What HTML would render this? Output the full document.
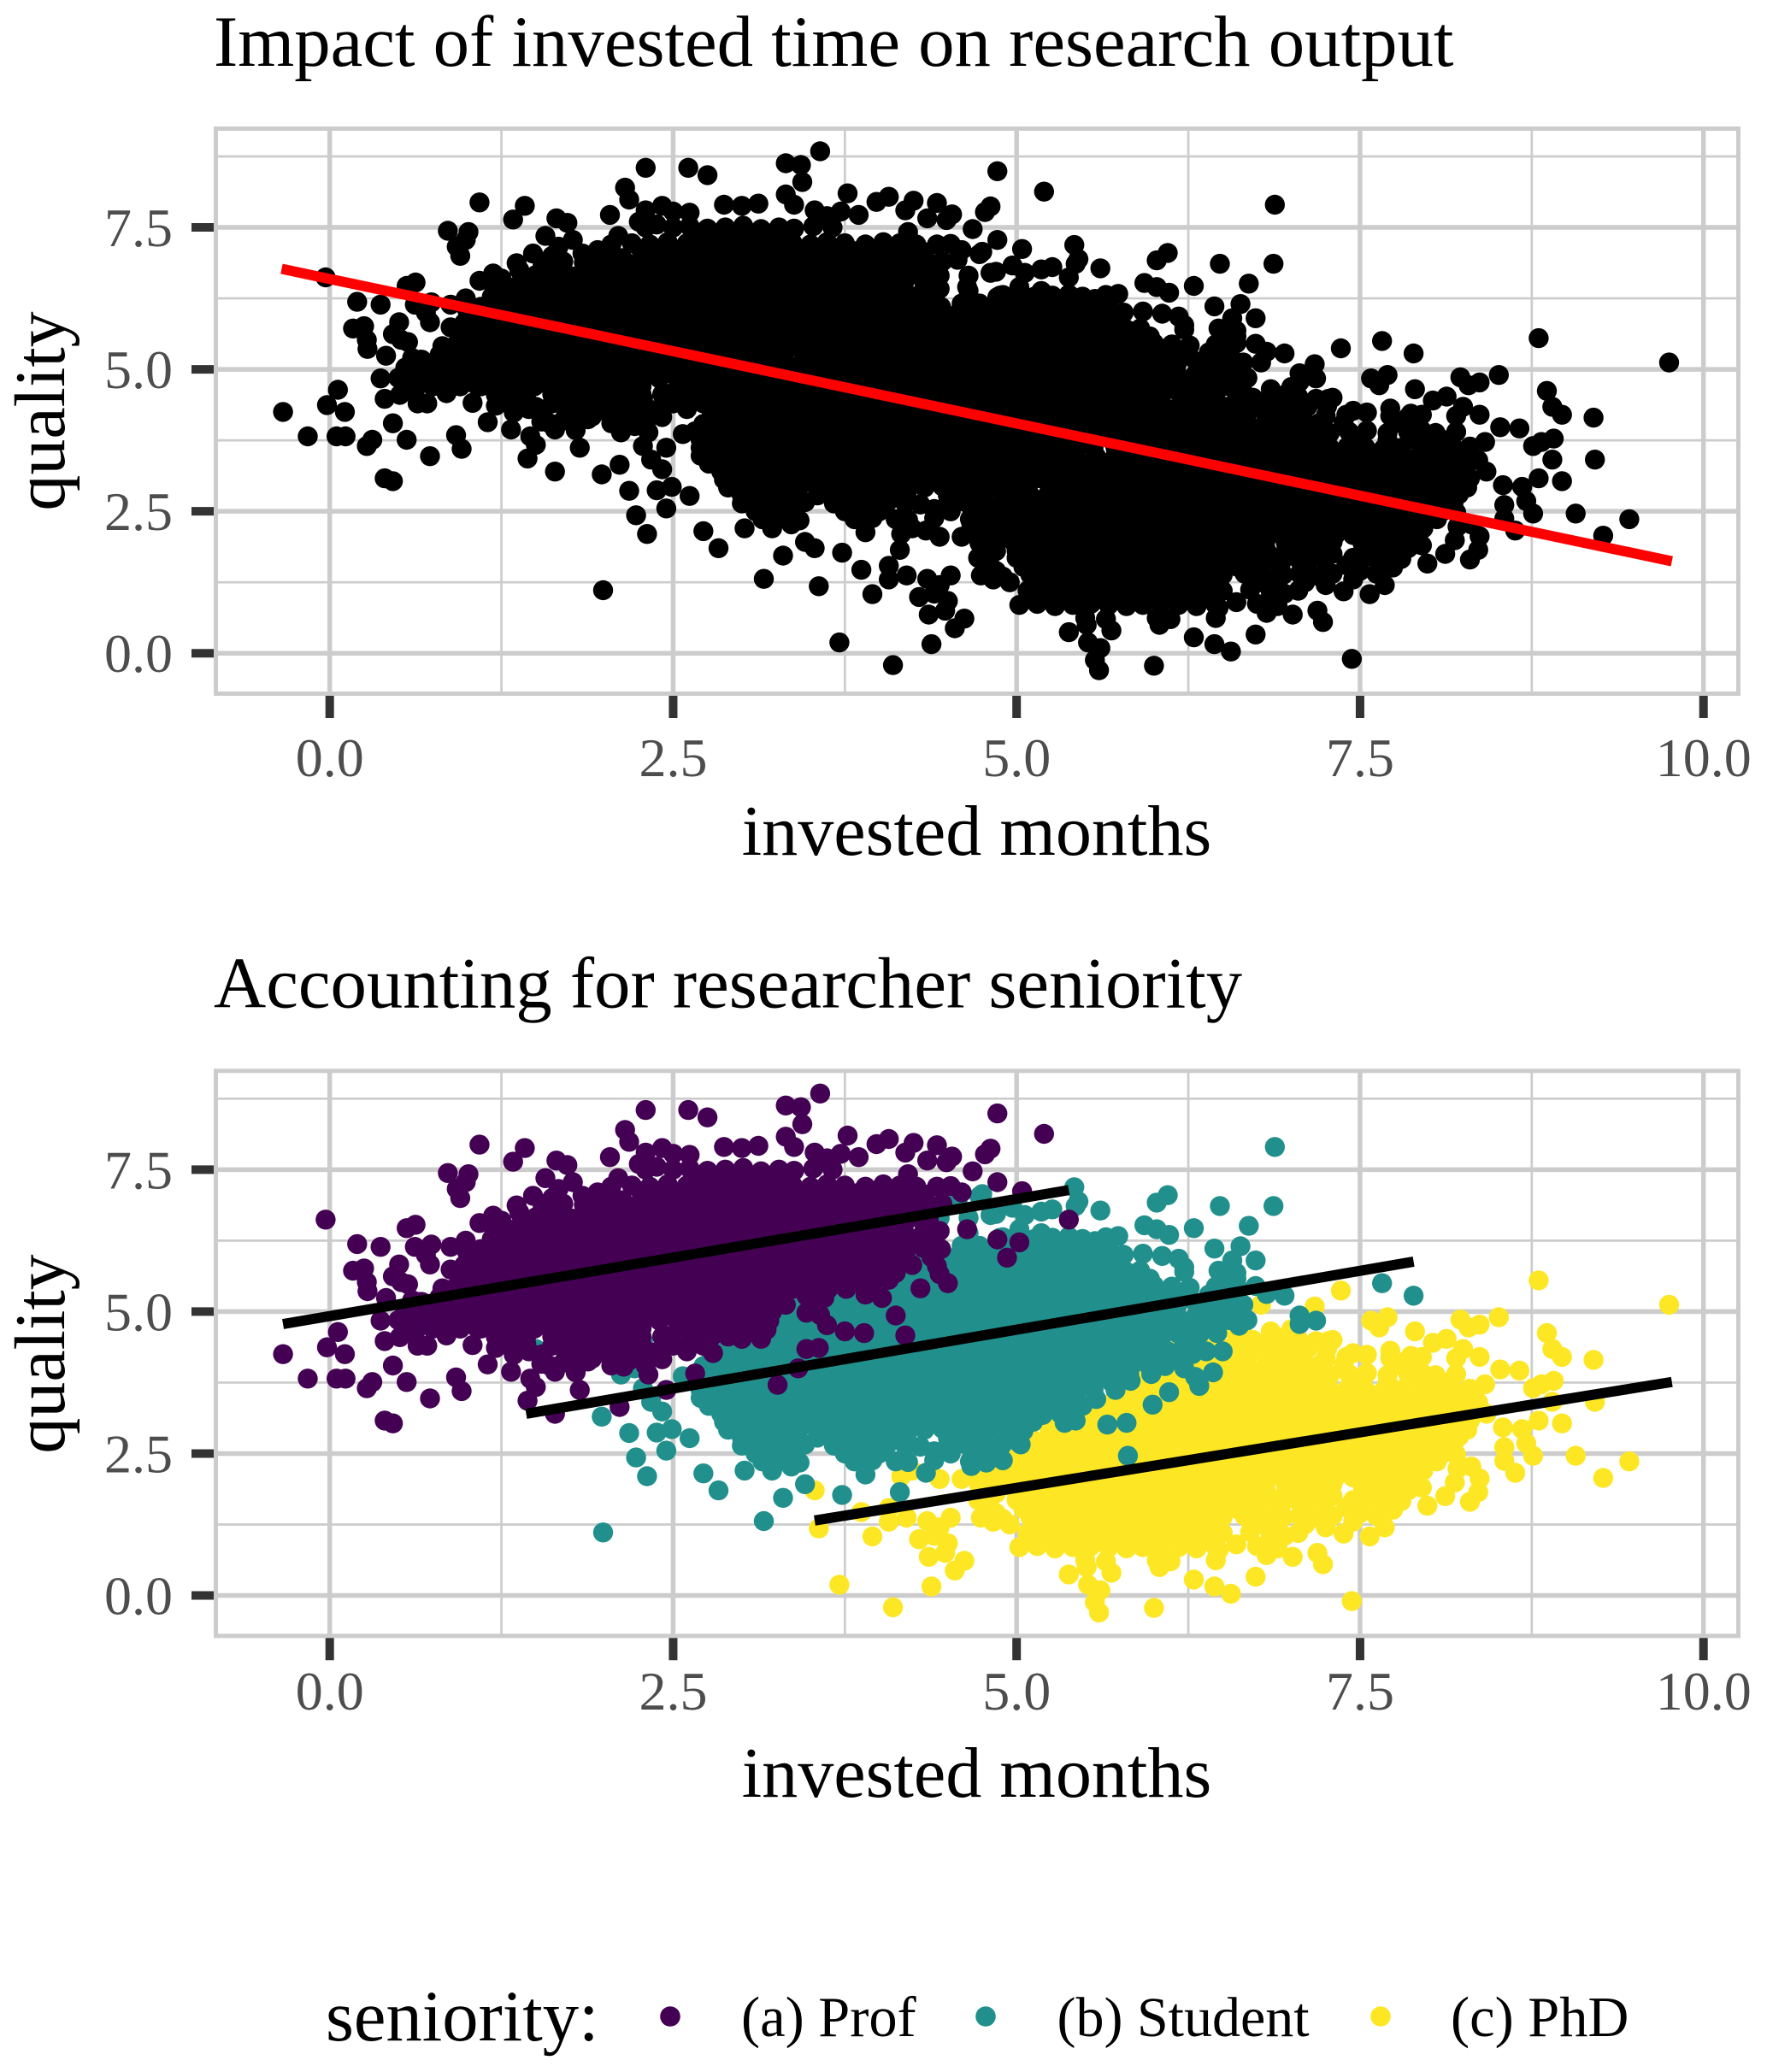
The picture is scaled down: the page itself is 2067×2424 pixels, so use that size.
<!DOCTYPE html>
<html lang="en">
<head>
<meta charset="utf-8">
<title>Impact of invested time on research output</title>
<style>
html,body{margin:0;padding:0;background:#fff;}
svg{display:block;}
text{font-family:"Liberation Serif",serif;}
</style>
</head>
<body>
<svg id="chart" xmlns="http://www.w3.org/2000/svg" width="2067" height="2424" viewBox="0 0 2067 2424">
<rect x="0" y="0" width="2067" height="2424" fill="#fff"/>
<text x="250" y="77" font-size="84.8" fill="#000">Impact of invested time on research output</text>
<text x="250" y="1178.5" font-size="84.8" fill="#000">Accounting for researcher seniority</text>
<g id="top-panel"></g>
<g id="bottom-panel"></g>
<text x="1142.5" y="1000" font-size="84.2" text-anchor="middle" fill="#000">invested months</text>
<text x="1142.5" y="2102" font-size="84.2" text-anchor="middle" fill="#000">invested months</text>
<text transform="translate(75,481) rotate(-90)" font-size="84" text-anchor="middle" fill="#000">quality</text>
<text transform="translate(75,1584) rotate(-90)" font-size="84" text-anchor="middle" fill="#000">quality</text>
<g>
<text x="381" y="2387" font-size="84.6" fill="#000">seniority:</text>
<circle cx="784" cy="2359" r="11.8" fill="#440154"/>
<text x="867" y="2382" font-size="66.4" fill="#000">(a) Prof</text>
<circle cx="1153" cy="2359" r="11.8" fill="#21908c"/>
<text x="1236.5" y="2382" font-size="66" fill="#000">(b) Student</text>
<circle cx="1615" cy="2359" r="11.8" fill="#fde725"/>
<text x="1697" y="2382" font-size="66.4" fill="#000">(c) PhD</text>
</g>
</svg>
<script>
const xTicks=[0,2.5,5,7.5,10];
const xTickLabels=["0.0","2.5","5.0","7.5","10.0"];
const xMinorTicks=[1.25,3.75,6.25,8.75];
const yTicks=[0,2.5,5,7.5];
const yTickLabels=["0.0","2.5","5.0","7.5"];
const yMinorTicks=[1.25,3.75,6.25,8.75];
const overallLineX=[-0.35,9.77];
const overallLineY=[6.77,1.62];
const profLineX=[-0.34,5.38];
const profLineY=[4.78,7.14];
const studentLineX=[1.43,7.89];
const studentLineY=[3.2,5.88];
const phdLineX=[3.53,9.77];
const phdLineY=[1.32,3.76];
const profPoints=[
[-.34,4.25],[-.16,3.82],[-.02,4.37],[.06,4.64],[.11,4.25],[.05,3.82],[.115,3.82],[-.03,6.62],[.2,6.19],[.37,6.14],[.17,5.72],[.25,5.76],[.27,5.52],[.275,5.36],[.41,5.24],[.46,5.62],[.505,5.83],[.56,6.47],[.625,6.53],[.57,5.48],[.52,5.52],[.37,4.84],[.4,4.48],[.51,4.55],[.55,5.03],[.67,5.17],[.64,4.4],[.71,4.4],[.85,4.58],[.46,4.05],[.56,3.76],[.27,3.65],[.31,3.76],[.73,3.47],[.92,3.84],[.96,3.6],[.4,3.08],[.46,3.03],
[.86,7.44],[1.01,7.42],[.925,7.16],[.95,7],[.99,7.28],[1.09,7.94],[1.42,7.88],[1.335,7.64],[1.65,7.66],[1.73,7.58],[1.57,7.35],[1.77,7.28],[1.665,7.16],[1.84,7.04],[2.04,7.72],[1.48,7.04],[1.36,6.87],[1.19,6.69],[1.09,6.56],
[2.3,8.55],[2.61,8.55],[2.75,8.42],[2.15,8.2],[2.18,7.99],[3.32,8.63],[3.43,8.6],[3.44,8.3],[3.57,8.84],[3.32,8.08],[3.38,7.9],[3.77,8.1],[3.53,7.8],[2.3,7.8],[2.42,7.88],[2.5,7.78],[2.62,7.76],[2.87,7.9],[3,7.88],[3.12,7.92],[3.62,7.7],[3.72,7.78],[3.85,7.72],[3.98,7.95],
[4.86,8.49],[5.2,8.13],[4.81,7.87],[4.77,7.77],[4.07,8.04],[4.25,7.97],[4.19,7.8],[4.42,7.93],[4.53,7.73],[4.35,7.66],[4.49,7.63],[4.68,7.47],[4.21,7.42],[4.86,7.28],[5.04,7.12],[4.52,7.21],[4.32,7.07],[4.64,6.45],[5.38,6.62],[4.86,6.27],[5.02,6.22],[4.93,5.95],[4.3,5.41],[4.5,5.5],[4.44,5.66],[4.12,4.93],[4.19,4.58],[4.6,7.1],[4.42,7.2],
[.62,6.14],[.74,6.18],[.7,6],[.73,5.83],[.88,6.14],[.99,6.25],[1.18,6.28],[1.25,5.95],[.88,5.74],[.97,5.76],[.82,5.41],[1.09,5.48],[.66,5.17],[.76,4.93],[.88,4.93],[1.01,4.9],[1.07,4.72],[1.04,4.41],[1.21,4.55],[1.21,4.36],[1.34,4.24],[1.15,4.07],[1.32,3.94],[1.46,3.82],[1.44,3.43],[1.5,3.67],[1.54,4.08],[1.64,3.2],[1.64,3.94],[1.79,3.93],[1.82,3.62],[2.11,3.32],[2.45,3.62],[2.66,3.91],[2.32,3.89],[2.14,4.03],[1.91,4.17],[2.4,4.27],[2.49,4.58],[2.79,4.27],[3.26,3.71],[3.41,4],[3.47,4.34],[3.56,4.36],[3.75,4.65],[3.89,4.62],[3.14,4.52],[3,4.52],[3.62,4.76],
[1.25,6.6],[1.4,6.65],[1.3,6.45],[1.2,6.4],[1.1,6.1],[1,6.05],[1.12,5.95],[1.38,6.75],[1.55,6.85],[1.7,6.9],[1.62,7],[1.85,6.88],[1.95,7.1],[2.05,7.2],[2.1,7.35],[2.25,7.6],[2.38,7.55],[2.5,7.5],[.6,4.75],[.7,4.85],[.62,4.62],[.75,4.7],[.85,4.75],[.95,4.7],[.8,5.1],[.7,5],[.6,5.2],[.5,4.85],[1.45,4.3],[1.55,4.25],[1.6,4.05],[1.7,4.1],[1.8,4.15],[2.05,4.05],[2.25,4.25],[2.3,4.05],[2.5,4.4],[2.6,4.3],
[2.3,7.5],[2.62,7.52],[2.75,7.48],[2.88,7.5],[3.01,7.53],[3.14,7.47],[3.27,7.5],[3.38,7.48],[3.52,7.52],[3.66,7.5],
[2.2,7.22],[2.33,7.2],[2.46,7.24],[2.6,7.22],[2.72,7.2],[2.86,7.24],[2.98,7.22],[3.11,7.2],[3.24,7.23],[3.37,7.22],[3.5,7.2],[3.62,7.24],[3.75,7.22],[3.9,7.2],[4.03,7.24],[4.15,7.22],[4.27,7.2],
[2,6.94],[2.13,6.96],[2.26,6.92],[2.39,6.94],[2.52,6.96],[2.65,6.94],[2.78,6.92],[2.91,6.94],[3.04,6.96],[3.17,6.94],[3.3,6.92],[3.43,6.95],[3.56,6.94],[3.69,6.92],[3.82,6.96],[3.95,6.94],[4.08,6.92],[4.21,6.95],[4.34,6.94],[4.46,6.9],
[1.5,6.66],[1.63,6.68],[1.76,6.64],[1.89,6.66],[2.02,6.68],[2.15,6.66],[2.28,6.64],[2.41,6.66],[2.54,6.68],[2.67,6.66],[2.8,6.64],[2.93,6.66],[3.06,6.68],[3.19,6.66],[3.32,6.64],[3.45,6.66],[3.58,6.68],[3.71,6.66],[3.84,6.64],[3.97,6.66],[4.1,6.68],[4.23,6.66],[4.36,6.64],
[1.33,6.38],[1.46,6.4],[1.59,6.36],[1.72,6.38],[1.85,6.4],[1.98,6.38],[2.11,6.36],[2.24,6.38],[2.37,6.4],[2.5,6.38],[2.63,6.36],[2.76,6.38],[2.89,6.4],[3.02,6.38],[3.15,6.36],[3.28,6.38],[3.41,6.4],[3.54,6.38],[3.67,6.36],[3.8,6.38],[3.93,6.4],[4.06,6.38],[4.19,6.36],[4.32,6.38],[4.44,6.42],
[1.2,6.1],[1.33,6.12],[1.46,6.08],[1.59,6.1],[1.72,6.12],[1.85,6.1],[1.98,6.08],[2.11,6.1],[2.24,6.12],[2.37,6.1],[2.5,6.08],[2.63,6.1],[2.76,6.12],[2.89,6.1],[3.02,6.08],[3.15,6.1],[3.28,6.12],[3.41,6.1],[3.54,6.08],[3.67,6.1],[3.8,6.12],[3.93,6.1],[4.06,6.08],[4.19,6.1],[4.32,6.12],[4.45,6.1],
[.98,5.82],[1.11,5.84],[1.24,5.8],[1.37,5.82],[1.5,5.84],[1.63,5.82],[1.76,5.8],[1.89,5.82],[2.02,5.84],[2.15,5.82],[2.28,5.8],[2.41,5.82],[2.54,5.84],[2.67,5.82],[2.8,5.8],[2.93,5.82],[3.06,5.84],[3.19,5.82],[3.32,5.8],[3.45,5.82],[3.58,5.84],[3.71,5.82],[3.84,5.8],[3.97,5.82],[4.1,5.84],[4.24,5.82],[4.42,5.8],
[.95,5.54],[1.08,5.56],[1.21,5.52],[1.34,5.54],[1.47,5.56],[1.6,5.54],[1.73,5.52],[1.86,5.54],[1.99,5.56],[2.12,5.54],[2.25,5.52],[2.38,5.54],[2.51,5.56],[2.64,5.54],[2.77,5.52],[2.9,5.54],[3.03,5.56],[3.16,5.54],[3.29,5.52],[3.42,5.54],[3.55,5.56],[3.68,5.54],[3.81,5.52],[3.94,5.54],[4.07,5.56],
[.8,5.26],[.93,5.28],[1.06,5.24],[1.19,5.26],[1.32,5.28],[1.45,5.26],[1.58,5.24],[1.71,5.26],[1.84,5.28],[1.97,5.26],[2.1,5.24],[2.23,5.26],[2.36,5.28],[2.49,5.26],[2.62,5.24],[2.75,5.26],[2.88,5.28],[3.01,5.26],[3.14,5.24],[3.27,5.26],[3.47,5.28],[3.6,5.24],[3.9,5.3],[4.02,5.24],
[.66,4.98],[.79,5],[.92,4.96],[1.05,4.98],[1.18,5],[1.31,4.98],[1.44,4.96],[1.57,4.98],[1.7,5],[1.83,4.98],[1.96,4.96],[2.09,4.98],[2.22,5],[2.35,4.98],[2.48,4.96],[2.61,4.98],[2.74,5],[2.87,4.98],[3,4.96],[3.13,4.98],[3.22,5],[3.47,4.98],[3.57,4.94],
[1.1,4.7],[1.23,4.72],[1.36,4.68],[1.49,4.7],[1.62,4.72],[1.75,4.7],[1.88,4.68],[2.01,4.7],[2.14,4.72],[2.27,4.7],[2.55,4.72],[2.68,4.68],[2.81,4.7],[2.94,4.72],[3.07,4.7],[3.18,4.68],
[1.3,4.42],[1.43,4.44],[1.62,4.4],[1.75,4.42],[1.88,4.44],[2.01,4.42],[2.14,4.4],[2.27,4.42],[2.62,4.44],[2.72,4.4],
[1.75,4.14],[1.88,4.12],[2.05,4.16],[2.18,4.14],[2.31,4.12],[2.42,4.16],
[2.7,7.36],[2.83,7.36],[2.96,7.36],[3.09,7.36],[3.22,7.36],[3.35,7.36],
[2.27,7.08],[2.4,7.08],[2.53,7.08],[2.66,7.08],[2.79,7.08],[2.92,7.08],[3.05,7.08],[3.18,7.08],[3.31,7.08],[3.44,7.08],[3.57,7.08],[3.7,7.08],[3.83,7.08],[3.96,7.08],[4.09,7.08],[4.2,7.08],
[1.9,6.8],[2.03,6.8],[2.16,6.8],[2.29,6.8],[2.42,6.8],[2.55,6.8],[2.68,6.8],[2.81,6.8],[2.94,6.8],[3.07,6.8],[3.2,6.8],[3.33,6.8],[3.46,6.8],[3.59,6.8],[3.72,6.8],[3.85,6.8],[3.98,6.8],[4.11,6.8],[4.24,6.8],[4.38,6.8],
[1.45,6.52],[1.58,6.52],[1.71,6.52],[1.84,6.52],[1.97,6.52],[2.1,6.52],[2.23,6.52],[2.36,6.52],[2.49,6.52],[2.62,6.52],[2.75,6.52],[2.88,6.52],[3.01,6.52],[3.14,6.52],[3.27,6.52],[3.4,6.52],[3.53,6.52],[3.66,6.52],[3.79,6.52],[3.92,6.52],[4.05,6.52],[4.18,6.52],[4.33,6.52],
[1.3,6.24],[1.43,6.24],[1.56,6.24],[1.69,6.24],[1.82,6.24],[1.95,6.24],[2.08,6.24],[2.21,6.24],[2.34,6.24],[2.47,6.24],[2.6,6.24],[2.73,6.24],[2.86,6.24],[2.99,6.24],[3.12,6.24],[3.25,6.24],[3.38,6.24],[3.51,6.24],[3.64,6.24],[3.77,6.24],[3.9,6.24],[4.03,6.24],[4.16,6.24],[4.29,6.24],[4.4,6.24],
[1.2,5.96],[1.33,5.96],[1.46,5.96],[1.59,5.96],[1.72,5.96],[1.85,5.96],[1.98,5.96],[2.11,5.96],[2.24,5.96],[2.37,5.96],[2.5,5.96],[2.63,5.96],[2.76,5.96],[2.89,5.96],[3.02,5.96],[3.15,5.96],[3.28,5.96],[3.41,5.96],[3.54,5.96],[3.67,5.96],[3.8,5.96],[3.93,5.96],[4.06,5.96],[4.19,5.96],[4.38,5.96],
[1.02,5.68],[1.15,5.68],[1.28,5.68],[1.41,5.68],[1.54,5.68],[1.67,5.68],[1.8,5.68],[1.93,5.68],[2.06,5.68],[2.19,5.68],[2.32,5.68],[2.45,5.68],[2.58,5.68],[2.71,5.68],[2.84,5.68],[2.97,5.68],[3.1,5.68],[3.23,5.68],[3.36,5.68],[3.49,5.68],[3.62,5.68],[3.75,5.68],[3.88,5.68],[4.01,5.68],[4.12,5.68],
[.9,5.4],[1.03,5.4],[1.16,5.4],[1.29,5.4],[1.42,5.4],[1.55,5.4],[1.68,5.4],[1.81,5.4],[1.94,5.4],[2.07,5.4],[2.2,5.4],[2.33,5.4],[2.46,5.4],[2.59,5.4],[2.72,5.4],[2.85,5.4],[2.98,5.4],[3.11,5.4],[3.24,5.4],[3.37,5.4],[3.5,5.4],[3.63,5.4],[3.76,5.4],[3.95,5.4],
[.85,5.12],[.98,5.12],[1.11,5.12],[1.24,5.12],[1.37,5.12],[1.5,5.12],[1.63,5.12],[1.76,5.12],[1.89,5.12],[2.02,5.12],[2.15,5.12],[2.28,5.12],[2.41,5.12],[2.54,5.12],[2.67,5.12],[2.8,5.12],[2.93,5.12],[3.06,5.12],[3.19,5.12],[3.32,5.12],[3.52,5.12],
[1.1,4.84],[1.23,4.84],[1.36,4.84],[1.49,4.84],[1.62,4.84],[1.75,4.84],[1.88,4.84],[2.01,4.84],[2.14,4.84],[2.27,4.84],[2.4,4.84],[2.53,4.84],[2.66,4.84],[2.79,4.84],[2.92,4.84],[3.05,4.84],[3.2,4.84],
[1.3,4.56],[1.43,4.56],[1.62,4.56],[1.75,4.56],[1.88,4.56],[2.01,4.56],[2.14,4.56],[2.27,4.56],[2.42,4.56],[2.65,4.56],[2.78,4.56],[2.9,4.56],
[1.72,4.28],[1.85,4.28],[1.98,4.28],[2.11,4.28],[2.24,4.28],[2.36,4.28]
];
const studentPoints=[
[6.88,7.9],[6.1,7.05],[6.02,6.92],[6.48,6.86],[6.87,6.86],[6.29,6.47],[6.69,6.51],[6.44,6.11],[6.63,6.15],[6.74,5.9],[6.57,5.9],[7.66,5.5],[7.89,5.28],[7.06,4.93],[7.18,4.84],[7.06,4.78],[6.95,5.28],[6.82,5.31],[6.74,5.45],[5.42,7.19],[5.45,6.94],[5.61,6.78],[5.93,6.52],[6.02,6.45],[6.11,6.35],[5.65,6.31],[5.74,6.33],[6.18,5.93],[6.22,5.78],[6.46,4.62],[6.3,4.45],[6.2,4.7],[6.15,4.17],[6.43,3.93],[6.33,3.69],[6.11,3.58],[5.99,3.36],[5.8,3.04],[5.66,3.01],[5.43,3.08],[5.35,3.04],[5.81,2.46],
[1.99,1.11],[3.16,1.31],[2.31,2.1],[2.23,2.43],[2.45,2.55],[2.18,2.86],[1.98,3.15],[2.38,2.87],[2.49,2.93],[2.62,2.77],[2.72,2.15],[2.83,1.85],[3.02,2.2],[3.22,2.2],[3.36,2.27],[3.3,1.72],[3.46,1.96],[3.73,1.77],[3.9,2.3],[3.9,2.13],
[1.5,4.34],[2.12,3.89],[2.22,4],[2.55,4.76],[2.28,4.48],[2.28,3.65],[2.34,3.41],[2.42,3.24],[2.57,3.86],[4.46,2.99],[4.4,2.54],[4.34,2.16],[4.21,2.35],[4.15,1.82],[4.67,2.28],[4.59,2.68],[5,2.72],[4.85,2.48],[4.95,3.03],[4.75,7.07],[4.81,6.7],[5.06,6.7],[5.18,6.76],[5.26,6.8],
[4.22,5.85],[4.35,5.8],[4.48,5.9],[4.3,6],[4.42,6.05],[4.2,5.72],[4.33,5.68],[4.46,5.7],[4.73,7.03],[4.65,6.65],[4.65,6.38],[4.44,6.65],[4.57,6.93],[4.85,6.72],[4.97,6.83],[5.43,6.86],[4.9,6.31],[5.02,6.45],[5.18,6.38],[5.3,6.17],[5.5,6.1],[5.57,6.24],
[6.25,4.55],[6.33,4.6],[6.4,4.7],[6.35,4.85],[6.5,4.3],[6.38,4.3],[6.28,4.25],[6.22,4],[6.3,3.85],[6.55,4.85],[6.62,5],[6.62,4.75],[6.68,4.85],
[4.88,6.3],[5,6.32],[5.13,6.28],[5.26,6.3],[5.38,6.32],[5.48,6.28],[5.68,6.05],
[4.58,6],[4.7,6.02],[4.83,5.98],[4.96,6],[5.09,6.02],[5.22,6],[5.35,5.98],[5.48,6],[5.61,6.02],[5.78,6],[5.92,6.02],[6.06,5.98],
[4.5,5.72],[4.63,5.74],[4.76,5.7],[4.89,5.72],[5.02,5.74],[5.15,5.72],[5.28,5.7],[5.41,5.72],[5.54,5.74],[5.67,5.72],[5.8,5.7],[5.9,5.72],[6.22,5.7],[6.47,5.72],[6.6,5.68],
[3.92,5.44],[4.05,5.46],[4.18,5.42],[4.31,5.44],[4.44,5.46],[4.57,5.44],[4.7,5.42],[4.83,5.44],[4.96,5.46],[5.09,5.44],[5.22,5.42],[5.35,5.44],[5.48,5.46],[5.61,5.44],[5.74,5.42],[5.87,5.44],[6,5.46],[6.13,5.44],[6.26,5.42],[6.45,5.44],[6.6,5.46],
[3.45,5.16],[3.58,5.18],[3.71,5.14],[3.84,5.16],[3.97,5.18],[4.1,5.16],[4.23,5.14],[4.36,5.16],[4.49,5.18],[4.62,5.16],[4.75,5.14],[4.88,5.16],[5.01,5.18],[5.14,5.16],[5.27,5.14],[5.4,5.16],[5.53,5.18],[5.66,5.16],[5.79,5.14],[5.92,5.16],[6.05,5.18],[6.18,5.16],[6.31,5.14],[6.44,5.16],[6.57,5.18],[6.65,5.12],
[3.3,4.88],[3.43,4.9],[3.56,4.86],[3.69,4.88],[3.82,4.9],[3.95,4.88],[4.08,4.86],[4.21,4.88],[4.34,4.9],[4.47,4.88],[4.6,4.86],[4.73,4.88],[4.86,4.9],[4.99,4.88],[5.12,4.86],[5.25,4.88],[5.38,4.9],[5.51,4.88],[5.64,4.86],[5.77,4.88],[5.9,4.9],[6.03,4.88],[6.16,4.86],[6.29,4.88],[6.42,4.9],[6.5,4.84],
[3.05,4.6],[3.18,4.62],[3.31,4.58],[3.44,4.6],[3.57,4.62],[3.7,4.6],[3.83,4.58],[3.96,4.6],[4.09,4.62],[4.22,4.6],[4.35,4.58],[4.48,4.6],[4.61,4.62],[4.74,4.6],[4.87,4.58],[5,4.6],[5.13,4.62],[5.26,4.6],[5.39,4.58],[5.52,4.6],[5.65,4.62],[5.78,4.6],[5.91,4.58],[6.04,4.6],[6.17,4.62],[6.28,4.58],
[2.85,4.32],[2.98,4.34],[3.11,4.3],[3.24,4.32],[3.37,4.34],[3.5,4.32],[3.63,4.3],[3.76,4.32],[3.89,4.34],[4.02,4.32],[4.15,4.3],[4.28,4.32],[4.41,4.34],[4.54,4.32],[4.67,4.3],[4.8,4.32],[4.93,4.34],[5.06,4.32],[5.19,4.3],[5.32,4.32],[5.45,4.34],[5.58,4.32],[5.71,4.3],[5.84,4.32],[5.97,4.34],[6.1,4.3],[6.2,4.32],
[2.72,4.04],[2.85,4.06],[2.98,4.02],[3.11,4.04],[3.24,4.06],[3.37,4.04],[3.5,4.02],[3.63,4.04],[3.76,4.06],[3.89,4.04],[4.02,4.02],[4.15,4.04],[4.28,4.06],[4.41,4.04],[4.54,4.02],[4.67,4.04],[4.8,4.06],[4.93,4.04],[5.06,4.02],[5.19,4.04],[5.32,4.06],[5.45,4.04],[5.58,4.02],[5.71,4.04],[5.84,4.06],[5.97,4.02],[6.08,4.04],
[2.7,3.76],[2.83,3.78],[2.96,3.74],[3.09,3.76],[3.22,3.78],[3.35,3.76],[3.48,3.74],[3.61,3.76],[3.74,3.78],[3.87,3.76],[4,3.74],[4.13,3.76],[4.26,3.78],[4.39,3.76],[4.52,3.74],[4.65,3.76],[4.78,3.78],[4.91,3.76],[5.04,3.74],[5.17,3.76],[5.3,3.78],[5.43,3.76],[5.56,3.74],[5.69,3.76],[5.83,3.78],
[2.7,3.48],[2.83,3.5],[2.96,3.46],[3.09,3.48],[3.22,3.5],[3.35,3.48],[3.48,3.46],[3.61,3.48],[3.74,3.5],[3.87,3.48],[4,3.46],[4.13,3.48],[4.26,3.5],[4.39,3.48],[4.52,3.46],[4.65,3.48],[4.78,3.5],[4.91,3.48],[5.04,3.46],[5.17,3.48],[5.3,3.5],[5.43,3.48],[5.58,3.46],
[2.85,3.2],[2.98,3.22],[3.11,3.18],[3.24,3.2],[3.37,3.22],[3.5,3.2],[3.63,3.18],[3.76,3.2],[3.89,3.22],[4.02,3.2],[4.15,3.18],[4.28,3.2],[4.41,3.22],[4.54,3.2],[4.67,3.18],[4.8,3.2],[4.93,3.22],[5.06,3.2],[5.19,3.18],[5.32,3.2],[5.42,3.22],
[2.9,2.92],[3.03,2.94],[3.16,2.9],[3.29,2.92],[3.42,2.94],[3.55,2.92],[3.68,2.9],[3.81,2.92],[3.94,2.94],[4.07,2.92],[4.2,2.9],[4.33,2.92],[4.46,2.94],[4.59,2.92],[4.72,2.9],[4.85,2.92],[4.98,2.94],[5.05,2.9],
[3,2.64],[3.13,2.66],[3.26,2.62],[3.38,2.64],[3.46,2.66],[3.67,2.64],[3.8,2.62],[3.93,2.64],[4.06,2.66],[4.19,2.64],[4.3,2.62],[4.5,2.64],[4.63,2.66],[4.76,2.62],[4.89,2.64],[5.03,2.66],
[3.15,2.36],[3.28,2.38],[3.42,2.34],[3.82,2.36],[3.95,2.38],[4.12,2.36],[4.4,2.38],[4.66,2.36],[4.78,2.34],[4.9,2.38],
[4.6,6.16],[4.73,6.16],[4.86,6.16],[4.99,6.16],[5.12,6.16],[5.25,6.16],[5.38,6.16],[5.55,6.16],
[4.52,5.86],[4.65,5.86],[4.78,5.86],[4.91,5.86],[5.04,5.86],[5.17,5.86],[5.3,5.86],[5.43,5.86],[5.56,5.86],[5.72,5.86],
[4.15,5.58],[4.28,5.58],[4.41,5.58],[4.54,5.58],[4.67,5.58],[4.8,5.58],[4.93,5.58],[5.06,5.58],[5.19,5.58],[5.32,5.58],[5.45,5.58],[5.58,5.58],[5.71,5.58],[5.84,5.58],[5.97,5.58],[6.5,5.58],[6.6,5.58],
[3.5,5.3],[3.63,5.3],[3.76,5.3],[3.89,5.3],[4.02,5.3],[4.15,5.3],[4.28,5.3],[4.41,5.3],[4.54,5.3],[4.67,5.3],[4.8,5.3],[4.93,5.3],[5.06,5.3],[5.19,5.3],[5.32,5.3],[5.45,5.3],[5.58,5.3],[5.71,5.3],[5.84,5.3],[5.97,5.3],[6.1,5.3],[6.23,5.3],[6.4,5.3],[6.55,5.3],
[3.3,5.02],[3.43,5.02],[3.56,5.02],[3.69,5.02],[3.82,5.02],[3.95,5.02],[4.08,5.02],[4.21,5.02],[4.34,5.02],[4.47,5.02],[4.6,5.02],[4.73,5.02],[4.86,5.02],[4.99,5.02],[5.12,5.02],[5.25,5.02],[5.38,5.02],[5.51,5.02],[5.64,5.02],[5.77,5.02],[5.9,5.02],[6.03,5.02],[6.16,5.02],[6.32,5.02],[6.55,5.02],
[3.12,4.74],[3.25,4.74],[3.38,4.74],[3.51,4.74],[3.64,4.74],[3.77,4.74],[3.9,4.74],[4.03,4.74],[4.16,4.74],[4.29,4.74],[4.42,4.74],[4.55,4.74],[4.68,4.74],[4.81,4.74],[4.94,4.74],[5.07,4.74],[5.2,4.74],[5.33,4.74],[5.46,4.74],[5.59,4.74],[5.72,4.74],[5.85,4.74],[5.98,4.74],[6.11,4.74],[6.26,4.74],[6.4,4.74],
[2.92,4.46],[3.05,4.46],[3.18,4.46],[3.31,4.46],[3.44,4.46],[3.57,4.46],[3.7,4.46],[3.83,4.46],[3.96,4.46],[4.09,4.46],[4.22,4.46],[4.35,4.46],[4.48,4.46],[4.61,4.46],[4.74,4.46],[4.87,4.46],[5,4.46],[5.13,4.46],[5.26,4.46],[5.39,4.46],[5.52,4.46],[5.65,4.46],[5.78,4.46],[5.91,4.46],[6.05,4.46],[6.22,4.46],
[2.78,4.18],[2.91,4.18],[3.04,4.18],[3.17,4.18],[3.3,4.18],[3.43,4.18],[3.56,4.18],[3.69,4.18],[3.82,4.18],[3.95,4.18],[4.08,4.18],[4.21,4.18],[4.34,4.18],[4.47,4.18],[4.6,4.18],[4.73,4.18],[4.86,4.18],[4.99,4.18],[5.12,4.18],[5.25,4.18],[5.38,4.18],[5.51,4.18],[5.64,4.18],[5.77,4.18],[5.9,4.18],[6.03,4.18],
[2.7,3.9],[2.83,3.9],[2.96,3.9],[3.09,3.9],[3.22,3.9],[3.35,3.9],[3.48,3.9],[3.61,3.9],[3.74,3.9],[3.87,3.9],[4,3.9],[4.13,3.9],[4.26,3.9],[4.39,3.9],[4.52,3.9],[4.65,3.9],[4.78,3.9],[4.91,3.9],[5.04,3.9],[5.17,3.9],[5.3,3.9],[5.43,3.9],[5.56,3.9],[5.69,3.9],[5.82,3.9],[5.98,3.9],
[2.7,3.62],[2.83,3.62],[2.96,3.62],[3.09,3.62],[3.22,3.62],[3.35,3.62],[3.48,3.62],[3.61,3.62],[3.74,3.62],[3.87,3.62],[4,3.62],[4.13,3.62],[4.26,3.62],[4.39,3.62],[4.52,3.62],[4.65,3.62],[4.78,3.62],[4.91,3.62],[5.04,3.62],[5.17,3.62],[5.3,3.62],[5.43,3.62],[5.56,3.62],[5.72,3.62],
[2.76,3.34],[2.89,3.34],[3.02,3.34],[3.15,3.34],[3.28,3.34],[3.41,3.34],[3.54,3.34],[3.67,3.34],[3.8,3.34],[3.93,3.34],[4.06,3.34],[4.19,3.34],[4.32,3.34],[4.45,3.34],[4.58,3.34],[4.71,3.34],[4.84,3.34],[4.97,3.34],[5.1,3.34],[5.23,3.34],[5.36,3.34],[5.48,3.34],
[2.87,3.06],[3,3.06],[3.13,3.06],[3.26,3.06],[3.39,3.06],[3.52,3.06],[3.65,3.06],[3.78,3.06],[3.91,3.06],[4.04,3.06],[4.17,3.06],[4.3,3.06],[4.43,3.06],[4.56,3.06],[4.69,3.06],[4.82,3.06],[4.95,3.06],[5.12,3.06],
[3,2.78],[3.13,2.78],[3.26,2.78],[3.4,2.78],[3.55,2.78],[3.68,2.78],[3.81,2.78],[3.94,2.78],[4.07,2.78],[4.2,2.78],[4.5,2.78],[4.63,2.78],[4.76,2.78],[4.95,2.78],
[3.1,2.5],[3.23,2.5],[3.36,2.5],[3.75,2.5],[3.88,2.5],[4,2.5],[4.52,2.5],[4.68,2.5],[4.82,2.5]
];
const phdPoints=[
[3.53,1.85],[3.56,1.18],[3.71,.19],[3.87,1.47],[3.95,1.04],[4.1,-.21],[4.38,.16],[4.55,.44],[4.62,.61],[4.36,.68],[4.48,.75],[4.29,.99],[4.5,.92],[4.52,1.37],[4.35,1.31],[4.2,1.37],[4.07,1.54],[4.4,1.05],[4.44,1.2],
[5.38,.37],[5.51,.5],[5.69,.4],[5.52,.19],[5.61,.09],[5.57,-.12],[5.6,-.3],[6,-.22],[6.29,.28],[6.44,.16],[6.56,.03],[6.74,.33],[7.44,-.1],[7.01,.68],[6.82,.71],[7.19,.75],[7.23,.55],[6.04,.5],[6.47,.8],[7.57,1.04],[7.38,1.09],[7.68,1.2],[7.74,1.51],[7.99,1.58],[8.3,1.65],[8.36,1.82],[8.12,1.75],[8.19,1.99],[8.37,2.06],[8.31,2.27],[8.21,2.23],[8.63,2.16],[8.55,2.37],[8.76,2.46],[9.07,2.46],[9.27,2.07],[9.46,2.36],[8.97,3.03],[8.8,3.08],[8.54,2.96],[8.68,2.93],[8.71,2.68],[8.55,2.61],[8.9,3.41],[9.21,3.41],[9.2,4.15],[8.97,4.2],[8.9,4.34],[8.86,4.62],[8.91,3.78],[8.76,3.65],[8.82,3.72],[8.52,3.98],[8.66,3.96],[8.41,3.72],[8.37,4.2],[8.25,4.34],[8.13,4.52],[8.03,4.45],[8.29,4.72],[8.37,4.77],[8.23,4.86],[8.51,4.9],[8.8,5.55],[9.75,5.12],[7.9,4.65],[7.7,4.9],[7.64,4.72],[7.58,4.84],[7.36,5.37],[7.17,5.09],[6.78,5.12],[7.72,4.31],[7.87,4.22],[7.45,4.27],[7.55,4.24],[7.27,4.48],[6.65,4.59],[7,4.69],[8.36,3.4],[8.42,3.2],
[4.24,2.2],[4.16,2.1],[4.44,2.05],[4.6,2.05],[4.72,1.68],[4.74,1.37],[4.83,1.3],[4.07,1.3],
[6.05,4.5],[6.15,4.3],[6,4.2],[6.2,4.1],[6.3,4.2],[6.25,3.9],[6.1,3.85],[5.95,3.85],[6.38,4.05],[6.42,4.25],[6.55,4.35],
[6.35,4.4],[6.45,4.45],[6.55,4.7],[6.45,4.15],[6.32,3.98],[6.6,4.45],[6.72,4.5],[6.8,4.4],[6.85,4.65],[6.95,4.55],[6.2,3.75],[6.05,3.95],[5.9,3.72],[6,4],[6.12,4.05],
[7.12,1.6],[7.3,1.75],[7.4,1.55],[7.55,1.7],[7.5,1.45],[7.85,1.85],[7.95,1.9],[7.3,1.4],[7.45,1.3],[7.62,1.4],[7.1,1.25],[7.25,1.2],[6.95,1.05],[7.05,1.1],[6.6,.9],[6.85,.95],[4.75,1.95],[4.8,1.6],[4.85,1.45],[4.95,1.25],[4.9,1.35],[4.75,1.7],
[6.9,4.5],[7.05,4.52],[7.18,4.48],[7.3,4.5],
[6.55,4.2],[6.68,4.22],[6.82,4.18],[6.95,4.2],[7.08,4.22],[7.25,4.18],[7.4,4.2],[7.72,4.18],[7.85,4.16],[7.95,4.2],[8.2,4.18],
[6.5,3.9],[6.63,3.92],[6.76,3.88],[6.89,3.9],[7.02,3.92],[7.15,3.9],[7.28,3.88],[7.42,3.9],[7.55,3.92],[7.7,3.88],[7.85,3.9],[7.95,3.92],[8.05,3.88],[8.2,3.9],
[5.85,3.62],[5.98,3.64],[6.11,3.6],[6.24,3.62],[6.37,3.64],[6.5,3.62],[6.63,3.6],[6.76,3.62],[6.89,3.64],[7.02,3.62],[7.15,3.6],[7.28,3.62],[7.41,3.64],[7.54,3.62],[7.67,3.6],[7.8,3.62],[7.95,3.64],[8.05,3.6],[8.18,3.62],[8.3,3.64],
[5.6,3.34],[5.73,3.36],[5.86,3.32],[5.99,3.34],[6.12,3.36],[6.25,3.34],[6.38,3.32],[6.51,3.34],[6.64,3.36],[6.77,3.34],[6.9,3.32],[7.03,3.34],[7.16,3.36],[7.29,3.34],[7.42,3.32],[7.55,3.34],[7.68,3.36],[7.81,3.34],[7.94,3.32],[8.07,3.34],[8.2,3.36],[8.27,3.32],
[5.2,3.06],[5.33,3.08],[5.46,3.04],[5.59,3.06],[5.72,3.08],[5.85,3.06],[5.98,3.04],[6.11,3.06],[6.24,3.08],[6.37,3.06],[6.5,3.04],[6.63,3.06],[6.76,3.08],[6.89,3.06],[7.02,3.04],[7.15,3.06],[7.28,3.08],[7.41,3.06],[7.54,3.04],[7.67,3.06],[7.8,3.08],[7.93,3.06],[8.06,3.04],[8.19,3.06],[8.3,3.08],
[5.1,2.78],[5.23,2.8],[5.36,2.76],[5.49,2.78],[5.62,2.8],[5.75,2.78],[5.88,2.76],[6.01,2.78],[6.14,2.8],[6.27,2.78],[6.4,2.76],[6.53,2.78],[6.66,2.8],[6.79,2.78],[6.92,2.76],[7.05,2.78],[7.18,2.8],[7.31,2.78],[7.44,2.76],[7.57,2.78],[7.7,2.8],[7.83,2.78],[7.96,2.76],[8.09,2.78],[8.22,2.8],
[4.85,2.5],[4.98,2.52],[5.11,2.48],[5.24,2.5],[5.37,2.52],[5.5,2.5],[5.63,2.48],[5.76,2.5],[5.89,2.52],[6.02,2.5],[6.15,2.48],[6.28,2.5],[6.41,2.52],[6.54,2.5],[6.67,2.48],[6.8,2.5],[6.93,2.52],[7.06,2.5],[7.19,2.48],[7.32,2.5],[7.45,2.52],[7.58,2.5],[7.71,2.48],[7.84,2.5],[7.97,2.52],[8.1,2.5],[8.2,2.48],
[4.68,2.22],[4.81,2.24],[4.94,2.2],[5.07,2.22],[5.2,2.24],[5.33,2.22],[5.46,2.2],[5.59,2.22],[5.72,2.24],[5.85,2.22],[5.98,2.2],[6.11,2.22],[6.24,2.24],[6.37,2.22],[6.5,2.2],[6.63,2.22],[6.76,2.24],[6.89,2.22],[7.02,2.2],[7.15,2.22],[7.28,2.24],[7.41,2.22],[7.54,2.2],[7.67,2.22],[7.8,2.24],[7.96,2.2],
[4.73,1.94],[4.86,1.96],[4.99,1.92],[5.12,1.94],[5.25,1.96],[5.38,1.94],[5.51,1.92],[5.64,1.94],[5.77,1.96],[5.9,1.94],[6.03,1.92],[6.16,1.94],[6.29,1.96],[6.42,1.94],[6.55,1.92],[6.68,1.94],[6.81,1.96],[6.96,1.94],[7.06,1.92],[7.18,1.94],[7.3,1.96],[7.52,1.92],[7.66,1.96],[7.8,1.94],[7.9,1.92],
[4.76,1.66],[5,1.68],[5.13,1.64],[5.26,1.66],[5.39,1.68],[5.52,1.66],[5.65,1.64],[5.78,1.66],[5.91,1.68],[6.04,1.66],[6.17,1.64],[6.3,1.66],[6.43,1.68],[6.56,1.66],[6.69,1.64],[6.82,1.66],[6.95,1.68],[7.06,1.64],[7.24,1.66],[7.45,1.68],[7.65,1.64],[7.8,1.66],
[5.1,1.38],[5.23,1.4],[5.36,1.36],[5.49,1.38],[5.62,1.4],[5.75,1.38],[5.88,1.36],[6.01,1.38],[6.14,1.4],[6.27,1.38],[6.4,1.36],[6.5,1.38],[6.66,1.4],[6.8,1.36],[6.94,1.38],[7.06,1.4],[7.2,1.36],
[5.08,1.1],[5.21,1.12],[5.34,1.08],[5.47,1.1],[5.6,1.12],[5.73,1.1],[5.86,1.08],[5.99,1.1],[6.12,1.12],[6.25,1.1],[6.38,1.08],[6.5,1.1],[6.7,1.12],[6.85,1.08],
[5.02,.85],[5.15,.87],[5.28,.83],[5.41,.85],[5.54,.87],[5.67,.85],[5.8,.83],[5.92,.85],[6.05,.87],[6.18,.85],[6.31,.83],[6.45,.85],[6.75,.87],[6.9,.83],
[5.5,.62],[5.65,.6],[6.02,.62],[6.12,.6],[6.45,.62],
[6.7,4.35],[6.84,4.35],[6.98,4.35],[7.12,4.35],[7.26,4.35],
[6.42,4.05],[6.55,4.05],[6.68,4.05],[6.81,4.05],[6.94,4.05],[7.07,4.05],[7.2,4.05],[7.38,4.05],[7.75,4.05],[7.9,4.05],
[5.95,3.76],[6.08,3.76],[6.21,3.76],[6.34,3.76],[6.47,3.76],[6.6,3.76],[6.73,3.76],[6.86,3.76],[6.99,3.76],[7.12,3.76],[7.25,3.76],[7.45,3.76],[7.7,3.76],[7.9,3.76],[8.1,3.76],
[5.72,3.48],[5.85,3.48],[5.98,3.48],[6.11,3.48],[6.24,3.48],[6.37,3.48],[6.5,3.48],[6.63,3.48],[6.76,3.48],[6.89,3.48],[7.02,3.48],[7.15,3.48],[7.28,3.48],[7.41,3.48],[7.54,3.48],[7.67,3.48],[7.8,3.48],[7.93,3.48],[8.06,3.48],[8.2,3.48],
[5.5,3.2],[5.63,3.2],[5.76,3.2],[5.89,3.2],[6.02,3.2],[6.15,3.2],[6.28,3.2],[6.41,3.2],[6.54,3.2],[6.67,3.2],[6.8,3.2],[6.93,3.2],[7.06,3.2],[7.19,3.2],[7.32,3.2],[7.45,3.2],[7.58,3.2],[7.71,3.2],[7.84,3.2],[7.97,3.2],[8.1,3.2],[8.26,3.2],
[5.25,2.92],[5.38,2.92],[5.51,2.92],[5.64,2.92],[5.77,2.92],[5.9,2.92],[6.03,2.92],[6.16,2.92],[6.29,2.92],[6.42,2.92],[6.55,2.92],[6.68,2.92],[6.81,2.92],[6.94,2.92],[7.07,2.92],[7.2,2.92],[7.33,2.92],[7.46,2.92],[7.59,2.92],[7.72,2.92],[7.85,2.92],[7.98,2.92],[8.11,2.92],[8.28,2.92],
[5.02,2.64],[5.15,2.64],[5.28,2.64],[5.41,2.64],[5.54,2.64],[5.67,2.64],[5.8,2.64],[5.93,2.64],[6.06,2.64],[6.19,2.64],[6.32,2.64],[6.45,2.64],[6.58,2.64],[6.71,2.64],[6.84,2.64],[6.97,2.64],[7.1,2.64],[7.23,2.64],[7.36,2.64],[7.49,2.64],[7.62,2.64],[7.75,2.64],[7.88,2.64],[8.01,2.64],[8.18,2.64],
[4.78,2.36],[4.91,2.36],[5.04,2.36],[5.17,2.36],[5.3,2.36],[5.43,2.36],[5.56,2.36],[5.69,2.36],[5.82,2.36],[5.95,2.36],[6.08,2.36],[6.21,2.36],[6.34,2.36],[6.47,2.36],[6.6,2.36],[6.73,2.36],[6.86,2.36],[6.99,2.36],[7.12,2.36],[7.25,2.36],[7.38,2.36],[7.51,2.36],[7.64,2.36],[7.77,2.36],[7.9,2.36],[8.06,2.36],
[4.72,2.08],[4.85,2.08],[4.98,2.08],[5.11,2.08],[5.24,2.08],[5.37,2.08],[5.5,2.08],[5.63,2.08],[5.76,2.08],[5.89,2.08],[6.02,2.08],[6.15,2.08],[6.28,2.08],[6.41,2.08],[6.54,2.08],[6.67,2.08],[6.8,2.08],[6.93,2.08],[7.06,2.08],[7.19,2.08],[7.32,2.08],[7.45,2.08],[7.58,2.08],[7.71,2.08],[7.84,2.08],
[4.85,1.8],[5,1.8],[5.13,1.8],[5.26,1.8],[5.39,1.8],[5.52,1.8],[5.65,1.8],[5.78,1.8],[5.91,1.8],[6.04,1.8],[6.17,1.8],[6.3,1.8],[6.43,1.8],[6.56,1.8],[6.69,1.8],[6.82,1.8],[6.96,1.8],[7.15,1.8],[7.6,1.8],[7.75,1.8],
[5.05,1.52],[5.18,1.52],[5.31,1.52],[5.44,1.52],[5.57,1.52],[5.7,1.52],[5.83,1.52],[5.96,1.52],[6.09,1.52],[6.22,1.52],[6.35,1.52],[6.48,1.52],[6.61,1.52],[6.74,1.52],[6.92,1.52],[7.1,1.52],[7.65,1.52],
[5.12,1.24],[5.25,1.24],[5.38,1.24],[5.51,1.24],[5.64,1.24],[5.77,1.24],[5.9,1.24],[6.03,1.24],[6.16,1.24],[6.29,1.24],[6.45,1.24],[6.75,1.24],[6.9,1.24],
[5.12,.98],[5.25,.98],[5.38,.98],[5.51,.98],[5.64,.98],[5.77,.98],[5.9,.98],[6.03,.98],[6.16,.98],[6.29,.98],[6.43,.98]
];

const SVGNS='http://www.w3.org/2000/svg';
const gridColor='#cccccc';
const tickColor='#333333';
const panelLeft=252.5,panelRight=2033.5;
const xZero=385.7,xPerUnit=160.7;
const yPerUnit=66.42;
const xScale=v=>xZero+xPerUnit*v;

function make(tag,attrs,parent){
  const el=document.createElementNS(SVGNS,tag);
  for(const k in attrs){el.setAttribute(k,attrs[k]);}
  parent.appendChild(el);
  return el;
}
function drawGridX(g,value,top,bottom,width){
  const el=make('line',{x1:xScale(value),x2:xScale(value),y1:top,y2:bottom,stroke:gridColor,'stroke-width':width},g);
  
  
}
function drawGridY(g,py,width){
  const el=make('line',{x1:panelLeft,x2:panelRight,y1:py,y2:py,stroke:gridColor,'stroke-width':width},g);
  
  
}
function drawPoints(g,points,color,yScale){
  points.forEach(p=>{
    const el=make('circle',{cx:xScale(p[0]).toFixed(1),cy:yScale(p[1]).toFixed(1),r:11.7,fill:color},g);
    
    
  });
}
function drawFit(g,xs,ys,color,yScale){
  const el=make('line',{x1:xScale(xs[0]),y1:yScale(ys[0]),x2:xScale(xs[1]),y2:yScale(ys[1]),stroke:color,'stroke-width':12},g);
  
  
}
function drawAxes(g,yScale,top,bottom,tickLabelBaseline){
  xTicks.forEach((v,i)=>{
    const tick=make('line',{x1:xScale(v),x2:xScale(v),y1:bottom+2.5,y2:bottom+28.5,stroke:tickColor,'stroke-width':10},g);
    
    
    const label=make('text',{x:xScale(v),y:tickLabelBaseline,'text-anchor':'middle','font-size':64,fill:'#4d4d4d'},g);
    label.textContent=xTickLabels[i];
    
    
  });
  yTicks.forEach((v,i)=>{
    const tick=make('line',{x1:224,x2:250,y1:yScale(v),y2:yScale(v),stroke:tickColor,'stroke-width':10},g);
    
    
    const label=make('text',{x:202,y:yScale(v)+22,'text-anchor':'end','font-size':64,fill:'#4d4d4d'},g);
    label.textContent=yTickLabels[i];
    
    
  });
}
function drawPanel(g,top,bottom,yZero,tickLabelBaseline,drawMarks){
  const yScale=v=>yZero-yPerUnit*v;
  xMinorTicks.forEach(v=>drawGridX(g,v,top,bottom,2.7));
  yMinorTicks.forEach(v=>drawGridY(g,yScale(v),2.7));
  xTicks.forEach(v=>drawGridX(g,v,top,bottom,5.5));
  yTicks.forEach(v=>drawGridY(g,yScale(v),5.5));
  drawMarks(yScale);
  const border=make('rect',{x:panelLeft,y:top,width:panelRight-panelLeft,height:bottom-top,fill:'none',stroke:gridColor,'stroke-width':5},g);
  
  
  drawAxes(g,yScale,top,bottom,tickLabelBaseline);
}
const topG=document.getElementById('top-panel');
const bottomG=document.getElementById('bottom-panel');
drawPanel(topG,150.5,811.5,764.2,908,yScale=>{
  drawPoints(topG,phdPoints,'#000',yScale);
  drawPoints(topG,studentPoints,'#000',yScale);
  drawPoints(topG,profPoints,'#000',yScale);
  drawFit(topG,overallLineX,overallLineY,'#ff0000',yScale);
});
drawPanel(bottomG,1252.8,1913.8,1866.5,2000,yScale=>{
  drawPoints(bottomG,phdPoints,'#fde725',yScale);
  drawPoints(bottomG,studentPoints,'#21908c',yScale);
  drawPoints(bottomG,profPoints,'#440154',yScale);
  drawFit(bottomG,profLineX,profLineY,'#000',yScale);
  drawFit(bottomG,studentLineX,studentLineY,'#000',yScale);
  drawFit(bottomG,phdLineX,phdLineY,'#000',yScale);
});
</script>
</body>
</html>
